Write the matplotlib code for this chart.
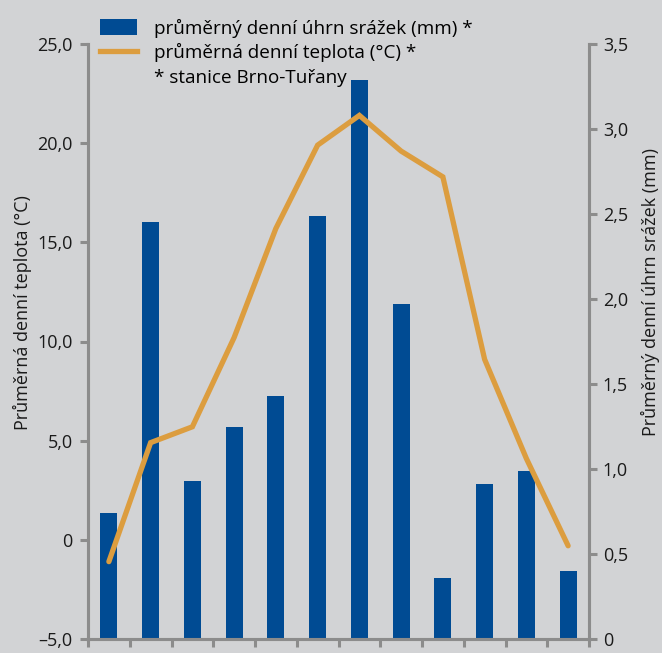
import matplotlib
matplotlib.use("Agg")
import matplotlib.pyplot as plt
from matplotlib.lines import Line2D
from matplotlib.ticker import FixedLocator, FixedFormatter

plt.rcParams['font.family'] = ['Open Sans', 'DejaVu Sans']

# data
months = ['I', 'II', 'III', 'IV', 'V', 'VI', 'VII', 'VIII', 'IX', 'X', 'XI', 'XII']
srazky = [0.74, 2.45, 0.93, 1.25, 1.43, 2.49, 3.29, 1.97, 0.36, 0.91, 0.99, 0.40]
teplota = [-1.1, 4.9, 5.7, 10.2, 15.7, 19.9, 21.4, 19.6, 18.3, 9.1, 4.1, -0.3]

temp_ticks = [-5, 0, 5, 10, 15, 20, 25]
temp_labels = ['\u20135,0', '0', '5,0', '10,0', '15,0', '20,0', '25,0']
rain_ticks = [0, 0.5, 1.0, 1.5, 2.0, 2.5, 3.0, 3.5]
rain_labels = ['0', '0,5', '1,0', '1,5', '2,0', '2,5', '3,0', '3,5']

BG = '#d2d3d5'
BLUE = '#004b93'
ORANGE = '#dc9d3f'
GREY = '#8c8c8c'
FS = 13

W, H = 662, 653
fig = plt.figure(figsize=(W / 100, H / 100), dpi=100, facecolor=BG)
ax = fig.add_axes([88 / W, 14 / H, (589 - 88) / W, (639 - 44) / H])
ax2 = ax.twinx()
ax.set_zorder(ax2.get_zorder() + 1)
ax.patch.set_visible(False)
ax2.set_facecolor(BG)

x = list(range(len(months)))
bars = ax2.bar(x, srazky, width=0.41, color=BLUE, zorder=2)
line, = ax.plot(x, teplota, color=ORANGE, lw=3.8, solid_capstyle='round',
                solid_joinstyle='miter', zorder=3)

ax.set_xlim(-0.5, 11.5)
ax.set_ylim(-5, 25)
ax2.set_ylim(0, 3.5)

for a in (ax, ax2):
    for s in a.spines.values():
        s.set_color(GREY)
        s.set_linewidth(2.2)
    a.spines['top'].set_visible(False)

ax.yaxis.set_major_locator(FixedLocator(temp_ticks))
ax.yaxis.set_major_formatter(FixedFormatter(temp_labels))
ax2.yaxis.set_major_locator(FixedLocator(rain_ticks))
ax2.yaxis.set_major_formatter(FixedFormatter(rain_labels))

ax.tick_params(axis='y', direction='out', length=6, width=2.2, color=GREY,
               labelsize=FS, pad=5, labelcolor='#1a1a1a')
ax2.tick_params(axis='y', direction='out', length=6, width=2.2, color=GREY,
                labelsize=FS, pad=4, labelcolor='#1a1a1a')

# month boundaries as minor ticks, names centred (cut by the bottom edge as in the original)
ax.set_xticks([i - 0.5 for i in range(13)], minor=True)
ax.set_xticks(x)
ax.set_xticklabels(months)
ax.tick_params(axis='x', which='minor', direction='out', length=6, width=2.2, color=GREY)
ax.tick_params(axis='x', which='major', length=0, labelsize=FS, pad=9)
ax2.tick_params(axis='x', which='both', length=0, labelbottom=False)

ax.set_ylabel('Průměrná denní teplota (°C)', fontsize=FS, color='#1a1a1a')
ax.yaxis.set_label_coords(-0.112, 0.548)
ax2.set_ylabel('Průměrný denní úhrn srážek (mm)', fontsize=FS, color='#1a1a1a')
ax2.yaxis.set_label_coords(1.104, 0.583)

handles = [bars, Line2D([], [], color=ORANGE, lw=3.8), Line2D([], [], color='none')]
labels = ['průměrný denní úhrn srážek (mm) *', 'průměrná denní teplota (°C) *',
          '* stanice Brno-Tuřany']
fig.legend(handles, labels, loc='upper left', bbox_to_anchor=(92 / W, 1 - 11 / H),
           frameon=False, fontsize=13.6, handlelength=2.0, handleheight=0.95,
           handletextpad=0.9, labelspacing=0.3, borderaxespad=0)

fig.savefig('out.png', dpi=100, facecolor=BG)
